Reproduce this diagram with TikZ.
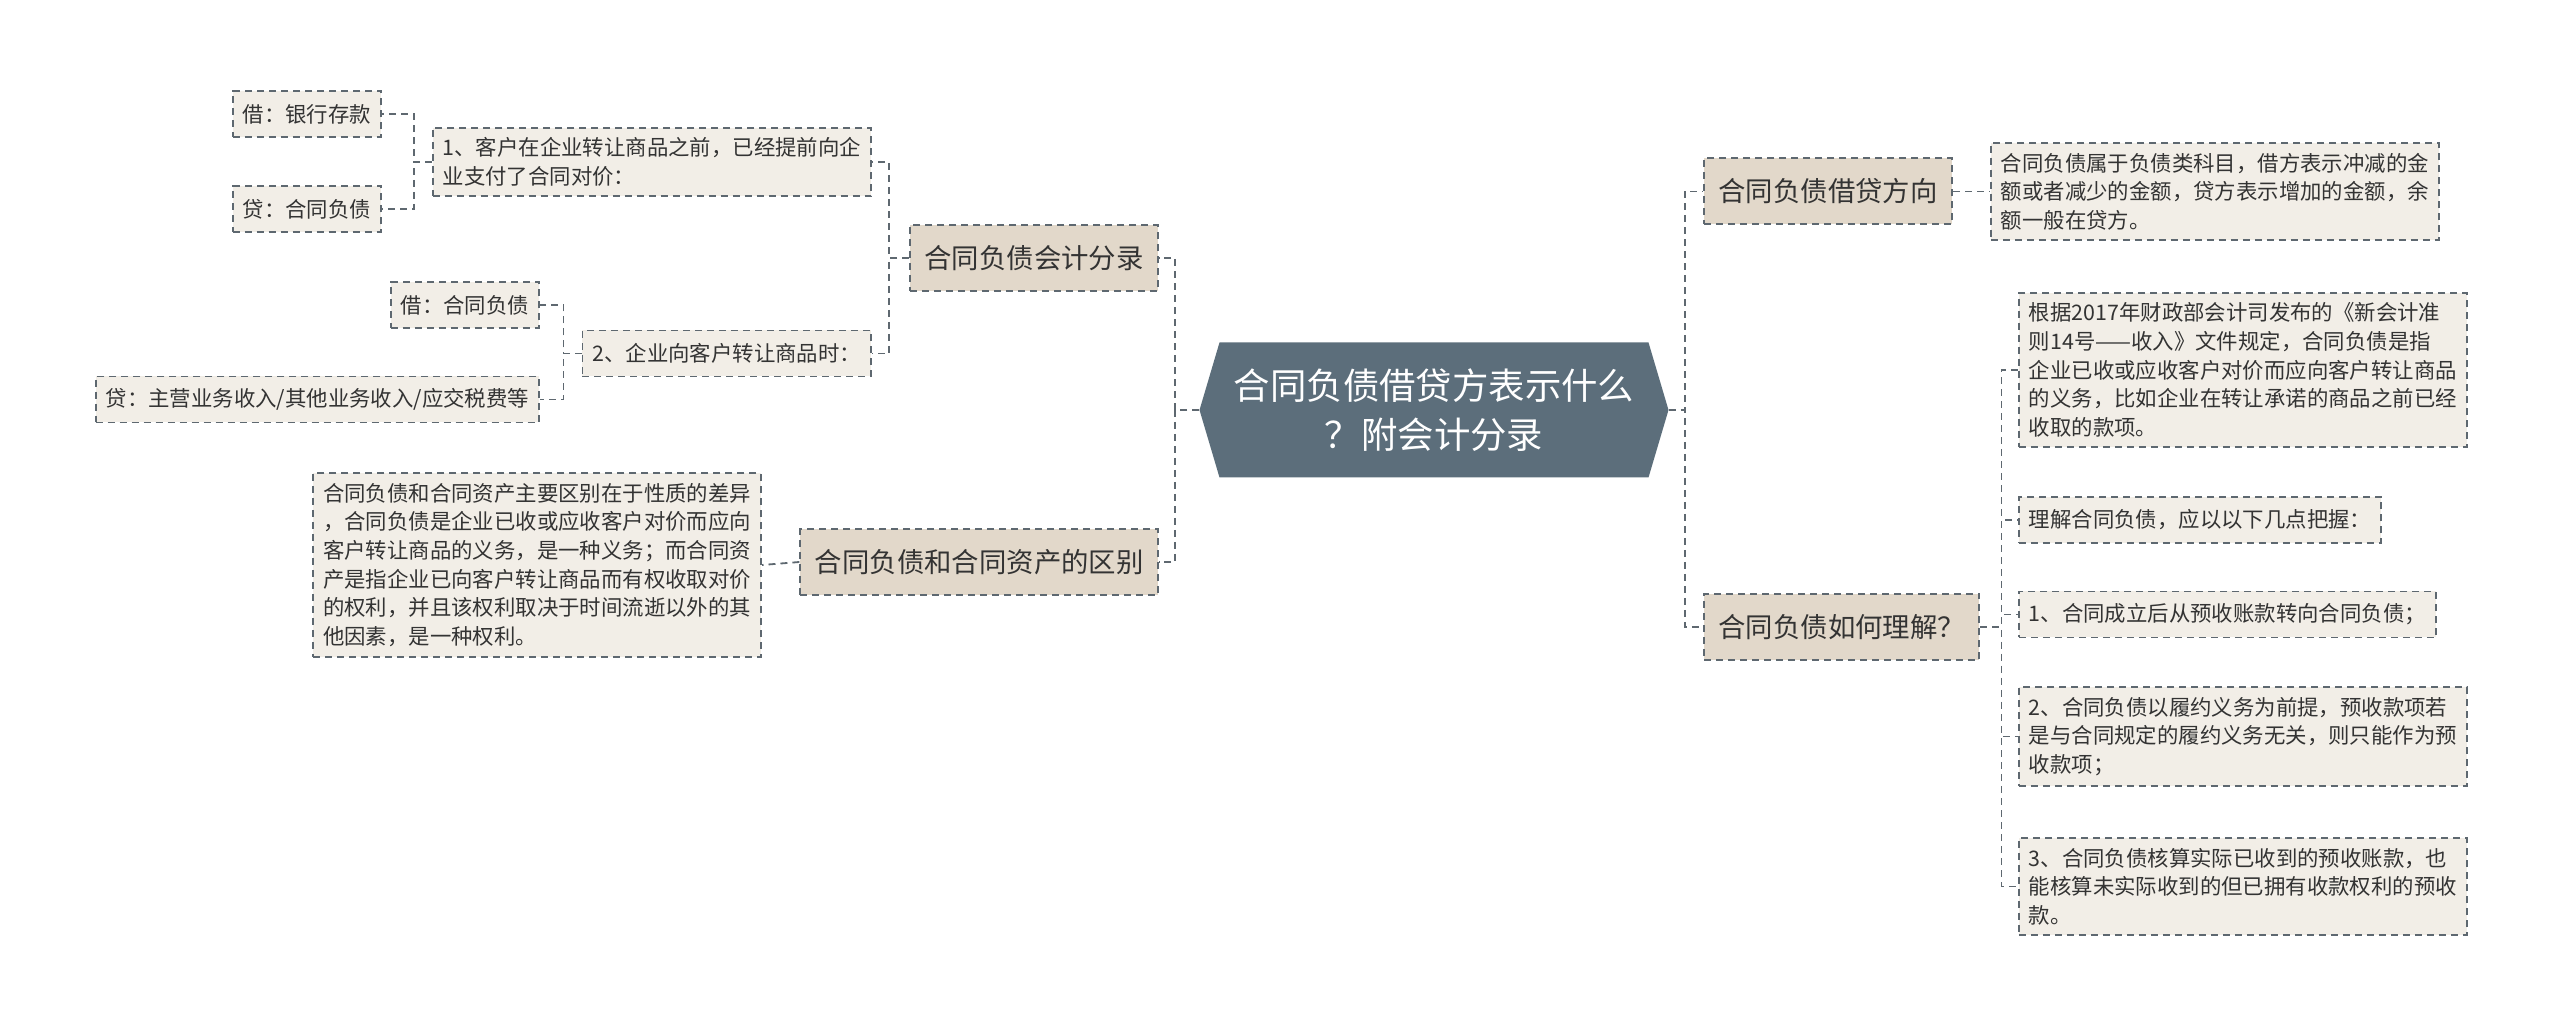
\documentclass[tikz,border=0pt]{standalone}
\usepackage{fontspec}
\setmainfont{Noto Sans CJK SC}
\usepackage{tikz}
\usetikzlibrary{positioning, shapes.symbols}
\definecolor{rootfill}{HTML}{5C6E7B}
\definecolor{topicfill}{HTML}{E2D8CA}
\definecolor{leaffill}{HTML}{F2EEE7}
\definecolor{linec}{HTML}{5E6870}
\definecolor{textc}{HTML}{333333}
\tikzstyle{rootnode} = [signal, signal to=east and west, signal pointer angle=147, fill=rootfill, text=white, minimum width=234.5pt, minimum height=67.5pt, align=center, font=\fontsize{18.2}{24.5}\selectfont]
\tikzstyle{topic} = [rectangle, draw=linec, line width=1pt, dash pattern=on 3.5pt off 2.5pt, fill=topicfill, text=textc, minimum height=33pt, inner xsep=7.2pt, font=\fontsize{13.7}{16}\selectfont]
\tikzstyle{leaf} = [rectangle, draw=linec, line width=0.9pt, dash pattern=on 3.5pt off 2.5pt, fill=leaffill, text=textc, minimum height=23pt, inner xsep=5pt, inner ysep=5pt, align=left, font=\fontsize{10.7}{14.3}\selectfont]
\tikzstyle{link} = [draw=linec, line width=0.9pt, dash pattern=on 3.5pt off 2.5pt]

\begin{document}
\begin{tikzpicture}[x=1pt, y=-1pt]
			\useasboundingbox (0,0) rectangle (1280,515.5);
			\node (root) [rootnode] at (717,205) {合同负债借贷方表示什么\\？附会计分录};
			
			%left side
			\node (acct) [topic, anchor=east] at (579.5,129) {合同负债会计分录};
			\node (diff) [topic, anchor=east] at (579.5,281) {合同负债和合同资产的区别};
			\node (pay) [leaf, anchor=east] at (436,81) {1、客户在企业转让商品之前，已经提前向企\\业支付了合同对价：};
			\node (move) [leaf, anchor=east] at (436,176.75) {2、企业向客户转让商品时：};
			\node (bank) [leaf, anchor=east] at (191,57) {借：银行存款};
			\node (owe) [leaf, anchor=east] at (191,104.5) {贷：合同负债};
			\node (debit) [leaf, anchor=east] at (270,152.5) {借：合同负债};
			\node (credit) [leaf, anchor=east] at (270,199.75) {贷：主营业务收入/其他业务收入/应交税费等};
			\node (gap) [leaf, anchor=east] at (381,282.5) {合同负债和合同资产主要区别在于性质的差异\\，合同负债是企业已收或应收客户对价而应向\\客户转让商品的义务，是一种义务；而合同资\\产是指企业已向客户转让商品而有权收取对价\\的权利，并且该权利取决于时间流逝以外的其\\他因素，是一种权利。};
			
			%right side
			\node (dir) [topic, anchor=west] at (851.5,95.75) {合同负债借贷方向};
			\node (how) [topic, anchor=west] at (851.5,313.5) {合同负债如何理解？};
			\node (kind) [leaf, anchor=west] at (995,95.75) {合同负债属于负债类科目，借方表示冲减的金\\额或者减少的金额，贷方表示增加的金额，余\\额一般在贷方。};
			\node (rule) [leaf, anchor=west] at (1009,185) {根据2017年财政部会计司发布的《新会计准\\则14号——收入》文件规定，合同负债是指\\企业已收或应收客户对价而应向客户转让商品\\的义务，比如企业在转让承诺的商品之前已经\\收取的款项。};
			\node (grasp) [leaf, anchor=west] at (1009,260) {理解合同负债，应以以下几点把握：};
			\node (one) [leaf, anchor=west] at (1009,307.25) {1、合同成立后从预收账款转向合同负债；};
			\node (two) [leaf, anchor=west] at (1009,368.25) {2、合同负债以履约义务为前提，预收款项若\\是与合同规定的履约义务无关，则只能作为预\\收款项；};
			\node (three) [leaf, anchor=west] at (1009,443.25) {3、合同负债核算实际已收到的预收账款，也\\能核算未实际收到的但已拥有收款权利的预收\\款。};
			
			%links
			\draw [link] (root.west) -- ++(-12,0) |- (acct.east);
			\draw [link] (root.west) -- ++(-12,0) |- (diff.east);
			\draw [link] (acct.west) -- ++(-10,0) |- (pay.east);
			\draw [link] (acct.west) -- ++(-10,0) |- (move.east);
			\draw [link] (pay.west) -- ++(-9,0) |- (bank.east);
			\draw [link] (pay.west) -- ++(-9,0) |- (owe.east);
			\draw [link] (move.west) -- ++(-9,0) |- (debit.east);
			\draw [link] (move.west) -- ++(-9,0) |- (credit.east);
			\draw [link] (diff.west) -- (gap.east);
			\draw [link] (root.east) -- ++(8,0) |- (dir.west);
			\draw [link] (root.east) -- ++(8,0) |- (how.west);
			\draw [link] (dir.east) -- (kind.west);
			\foreach \leafname in {rule, grasp, one, two, three}
				\draw [link] (how.east) -- ++(10.5,0) |- (\leafname.west);
			
		\end{tikzpicture}
\end{document}
